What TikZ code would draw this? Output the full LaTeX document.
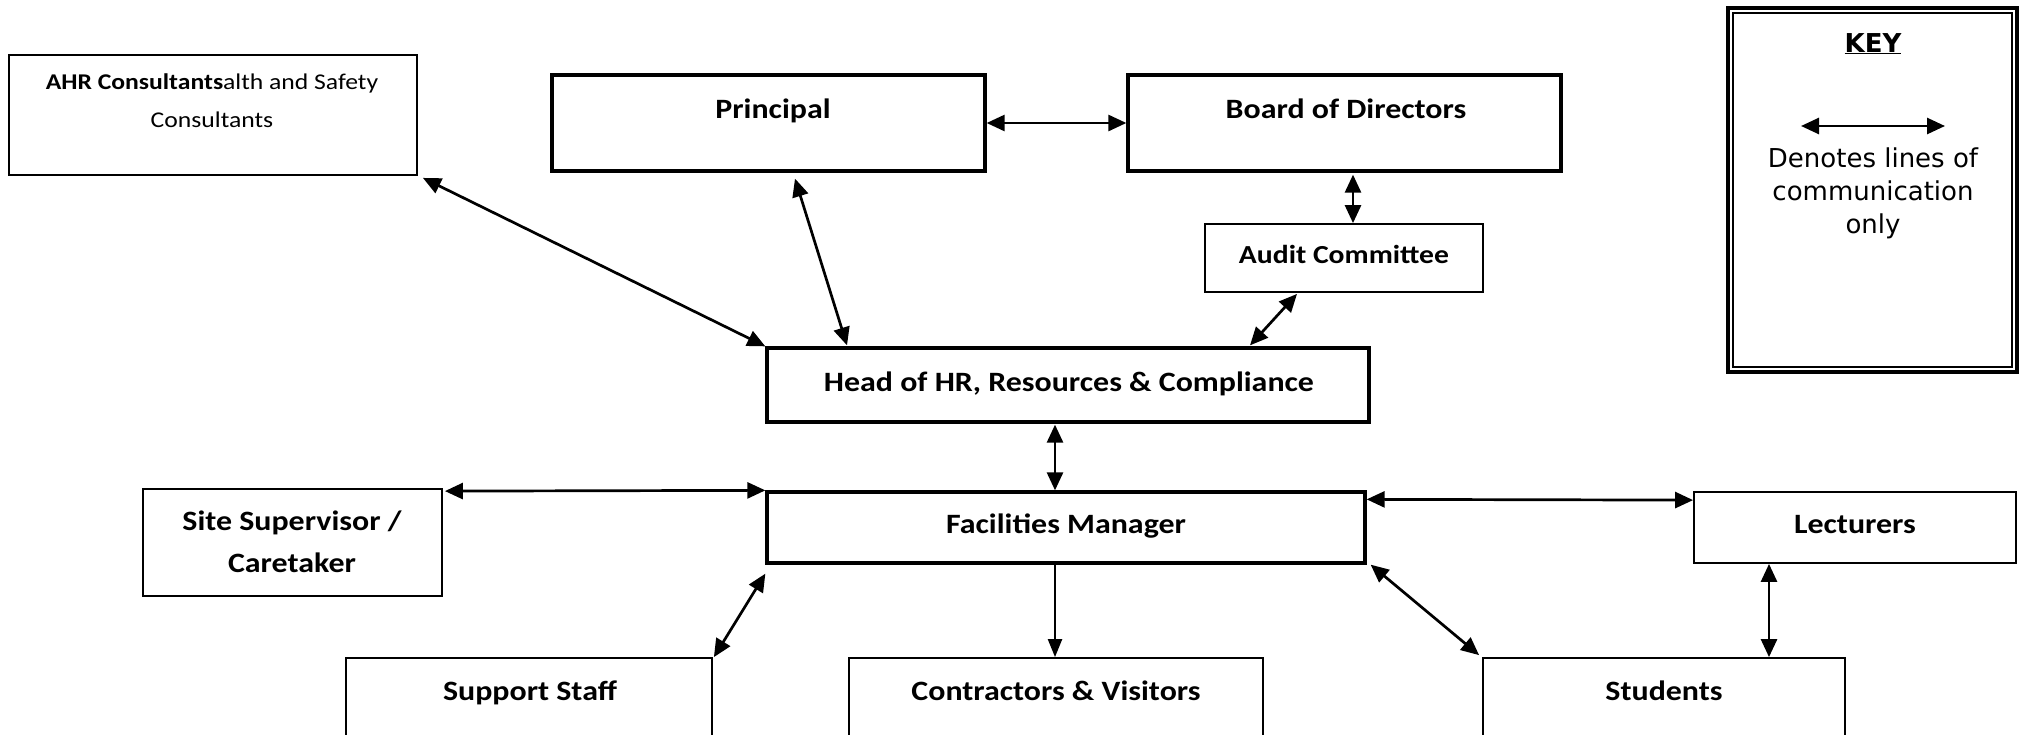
\documentclass[tikz,border=0pt]{standalone}
\usepackage{fontspec}
\setmainfont{Carlito}[FakeStretch=1.14]
\newfontfamily\keyfont{DejaVu Sans}
\usetikzlibrary{arrows.meta}
\begin{document}
\begin{tikzpicture}[x=1pt,y=-1pt,
  thickbox/.style={draw, line width=3.3pt, rectangle, inner sep=0pt},
  thinbox/.style={draw, line width=1.8pt, rectangle, inner sep=0pt},
  lbl/.style={font=\fontsize{28}{42}\selectfont\bfseries, inner sep=0pt, anchor=base, align=center},
  comm/.style={line width=2.7pt, {Triangle[length=18pt,width=16pt]}-{Triangle[length=18pt,width=16pt]}},
  oneway/.style={line width=2.2pt, -{Triangle[length=18pt,width=14pt]}}]
\useasboundingbox (0,0) rectangle (2019,734);
\clip (0,0) rectangle (2019,734);

% boxes
\node[thinbox, minimum width=408pt, minimum height=120pt] (ahr) at (213,115) {};
\node[thickbox, minimum width=433pt, minimum height=96pt] (principal) at (768.5,123) {};
\node[thickbox, minimum width=433pt, minimum height=96pt] (board) at (1344.5,123) {};
\node[thinbox, minimum width=278pt, minimum height=68pt] (audit) at (1344,258) {};
\node[thickbox, minimum width=602pt, minimum height=74pt] (hr) at (1068,385) {};
\node[thickbox, minimum width=598pt, minimum height=71pt] (fm) at (1066,527.5) {};
\node[thinbox, minimum width=299pt, minimum height=107pt] (site) at (292.5,542.5) {};
\node[thinbox, minimum width=322pt, minimum height=71pt] (lect) at (1855,527.5) {};
\node[thinbox, minimum width=366pt, minimum height=142pt] (support) at (529,729) {};
\node[thinbox, minimum width=414pt, minimum height=142pt] (contr) at (1056,729) {};
\node[thinbox, minimum width=362pt, minimum height=142pt] (stud) at (1664,729) {};

% labels (multi-line nodes: base = last line)
\node[lbl, font=\fontsize{22.5}{38}\selectfont] (tahr) at (212,127) {\textbf{AHR Consultants}alth and Safety\\Consultants};
\node[lbl] (tprincipal) at (773,118) {Principal};
\node[lbl] (tboard) at (1346,118) {Board of Directors};
\node[lbl, font=\fontsize{26}{30}\selectfont\bfseries] (taudit) at (1344,263) {Audit Committee};
\node[lbl] (thr) at (1069,391) {Head of HR, Resources \& Compliance};
\node[lbl] (tfm) at (1066,533) {Facilities Manager};
\node[lbl] (tsite) at (292,572) {Site Supervisor /\\Caretaker};
\node[lbl] (tlect) at (1855,533) {Lecturers};
\node[lbl] (tsupport) at (530,700) {Support Staff};
\node[lbl] (tcontr) at (1056,700) {Contractors \& Visitors};
\node[lbl] (tstud) at (1664,700) {Students};

% connectors
\draw[comm] ([xshift=5pt,yshift=-2pt]ahr.south east) -- (hr.north west);
\draw[comm] ([xshift=26.5pt,yshift=-6pt]principal.south) -- ([xshift=-221pt,yshift=1pt]hr.north);
\draw[comm] (principal.east) -- (board.west);
\draw[comm] ([xshift=8.5pt,yshift=-2pt]board.south) -- ([xshift=9pt]audit.north);
\draw[comm] ([xshift=-47pt,yshift=-1pt]audit.south) -- ([xshift=182pt,yshift=1pt]hr.north);
\draw[comm] ([xshift=-13pt,yshift=-1pt]hr.south) -- ([xshift=-11pt]fm.north);
\draw[comm] ([xshift=2pt,yshift=-3pt]site.north east) -- (fm.north west);
\draw[comm] ([yshift=-9pt]fm.north east) -- ([yshift=-9pt]lect.north west);
\draw[comm] ([yshift=-9pt]fm.south west) -- ([xshift=1pt]support.north east);
\draw[oneway] ([xshift=-11pt]fm.south) -- ([xshift=-1pt]contr.north);
\draw[comm] ([xshift=4pt]fm.south east) -- ([xshift=-3pt,yshift=2pt]stud.north west);
\draw[comm] ([xshift=-86pt]lect.south) -- ([xshift=105pt]stud.north);

% key
\node[draw, line width=4pt, rectangle, inner sep=0pt, minimum width=289pt, minimum height=364pt] (key) at (1872.5,190) {};
\draw[line width=2pt] ([shift={(7pt,-7pt)}]key.north west) rectangle ([shift={(-7pt,7pt)}]key.south east);
\node[anchor=base, inner sep=0pt, font=\keyfont\fontsize{26}{30}\selectfont\bfseries] (keytitle) at (1873,52) {\underline{KEY}};
\coordinate (keyA) at (1801,126);
\coordinate (keyB) at (1945,126);
\draw[comm] (keyA) -- (keyB);
\node[anchor=base, inner sep=0pt, align=center, font=\keyfont\fontsize{26}{33}\selectfont] (keytext) at (1873,233) {Denotes lines of\\communication\\only};
\end{tikzpicture}
\end{document}
